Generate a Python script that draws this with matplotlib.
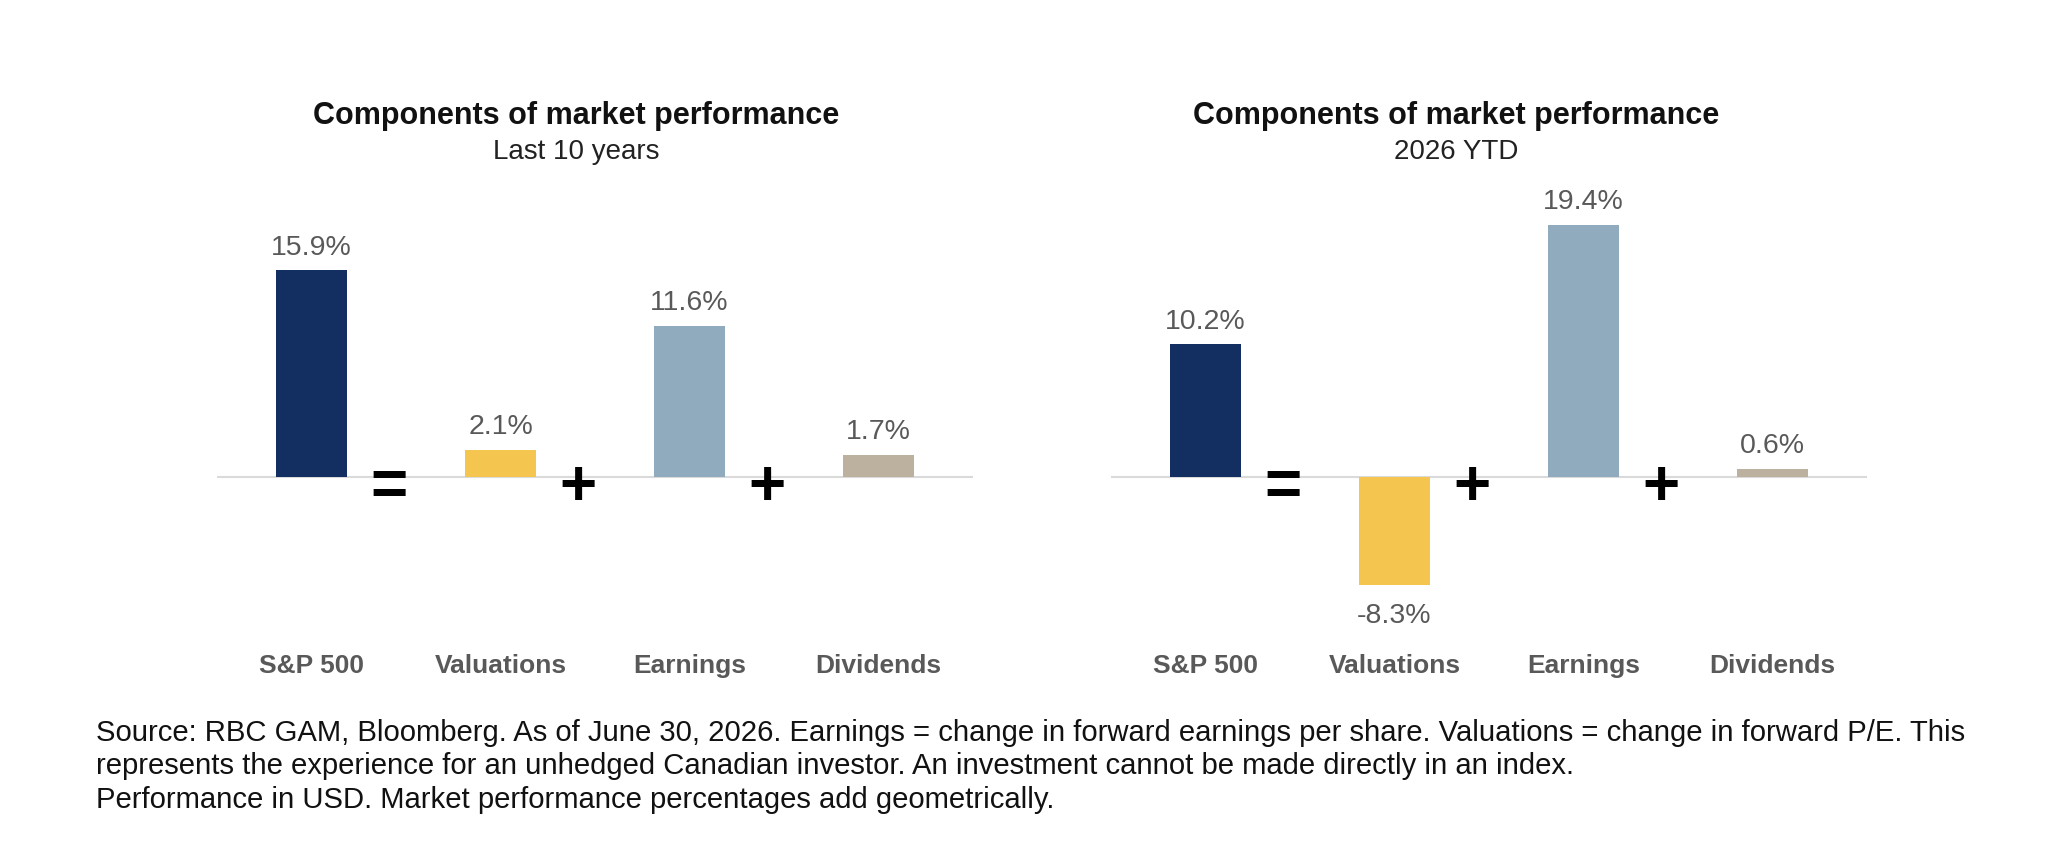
import matplotlib
matplotlib.use("Agg")
import matplotlib.pyplot as plt

plt.rcParams['font.family'] = ['Liberation Sans', 'DejaVu Sans']

categories = ["S&P 500", "Valuations", "Earnings", "Dividends"]
last10_values = [15.9, 2.1, 11.6, 1.7]
ytd_values = [10.2, -8.3, 19.4, 0.6]
operators = ["=", "+", "+"]
titles = ["Components of market performance", "Components of market performance"]
subtitles = ["Last 10 years", "2026 YTD"]
footnote_lines = [
    "Source: RBC GAM, Bloomberg. As of June 30, 2026. Earnings = change in forward earnings per share. Valuations = change in forward P/E. This",
    "represents the experience for an unhedged Canadian investor. An investment cannot be made directly in an index.",
    "Performance in USD. Market performance percentages add geometrically.",
]
colors = ["#132F61", "#F5C64F", "#8FABBD", "#BCB19F"]

W, H = 2062, 848
fig = plt.figure(figsize=(W / 100, H / 100), dpi=100)

ylim = (-12, 22)
ax_bottom = 1 - 633 / H
ax_height = (633 - 191) / H
ax_width = 756 / W
lefts = [217 / W, 1111 / W]
title_x = [576 / W, 1456 / W]

for k, (vals, left) in enumerate(zip([last10_values, ytd_values], lefts)):
    ax = fig.add_axes([left, ax_bottom, ax_width, ax_height])
    x = list(range(len(categories)))
    ax.bar(x, vals, width=0.38, color=colors, zorder=3)
    ax.axhline(0, color="#DADADA", lw=1.5, zorder=1)
    ax.set_xlim(-0.5, len(categories) - 0.5)
    ax.set_ylim(*ylim)
    for s in ax.spines.values():
        s.set_visible(False)
    ax.set_yticks([])
    ax.set_xticks(x)
    ax.set_xticklabels(categories, fontsize=19, fontweight="bold", color="#595959")
    ax.tick_params(axis="x", length=0, pad=15)
    for xi, v in zip(x, vals):
        if v >= 0:
            ax.annotate(f"{v:.1f}%", (xi, v), xytext=(0, 7), textcoords="offset points",
                        ha="center", va="bottom", fontsize=20.5, color="#595959")
        else:
            ax.annotate(f"{v:.1f}%", (xi, v), xytext=(0, -13), textcoords="offset points",
                        ha="center", va="top", fontsize=20.5, color="#595959")
    for i, op in enumerate(operators):
        ax.annotate(op, (i + 0.41, 0), xytext=(0, -8), textcoords="offset points",
                    ha="center", va="center", fontsize=46,
                    fontweight="bold", color="black", zorder=4)
    fig.text(title_x[k], 1 - 116 / H, titles[k], ha="center", va="center",
             fontsize=22, fontweight="bold", color="#111111")
    fig.text(title_x[k], 1 - 152 / H, subtitles[k], ha="center", va="center",
             fontsize=20, color="#222222")

for j, line in enumerate(footnote_lines):
    fig.text(96 / W, 1 - (733 + j * 33.5) / H, line, ha="left", va="center",
             fontsize=21.1, color="#111111")

fig.savefig("out.png", dpi=100, facecolor="white")
